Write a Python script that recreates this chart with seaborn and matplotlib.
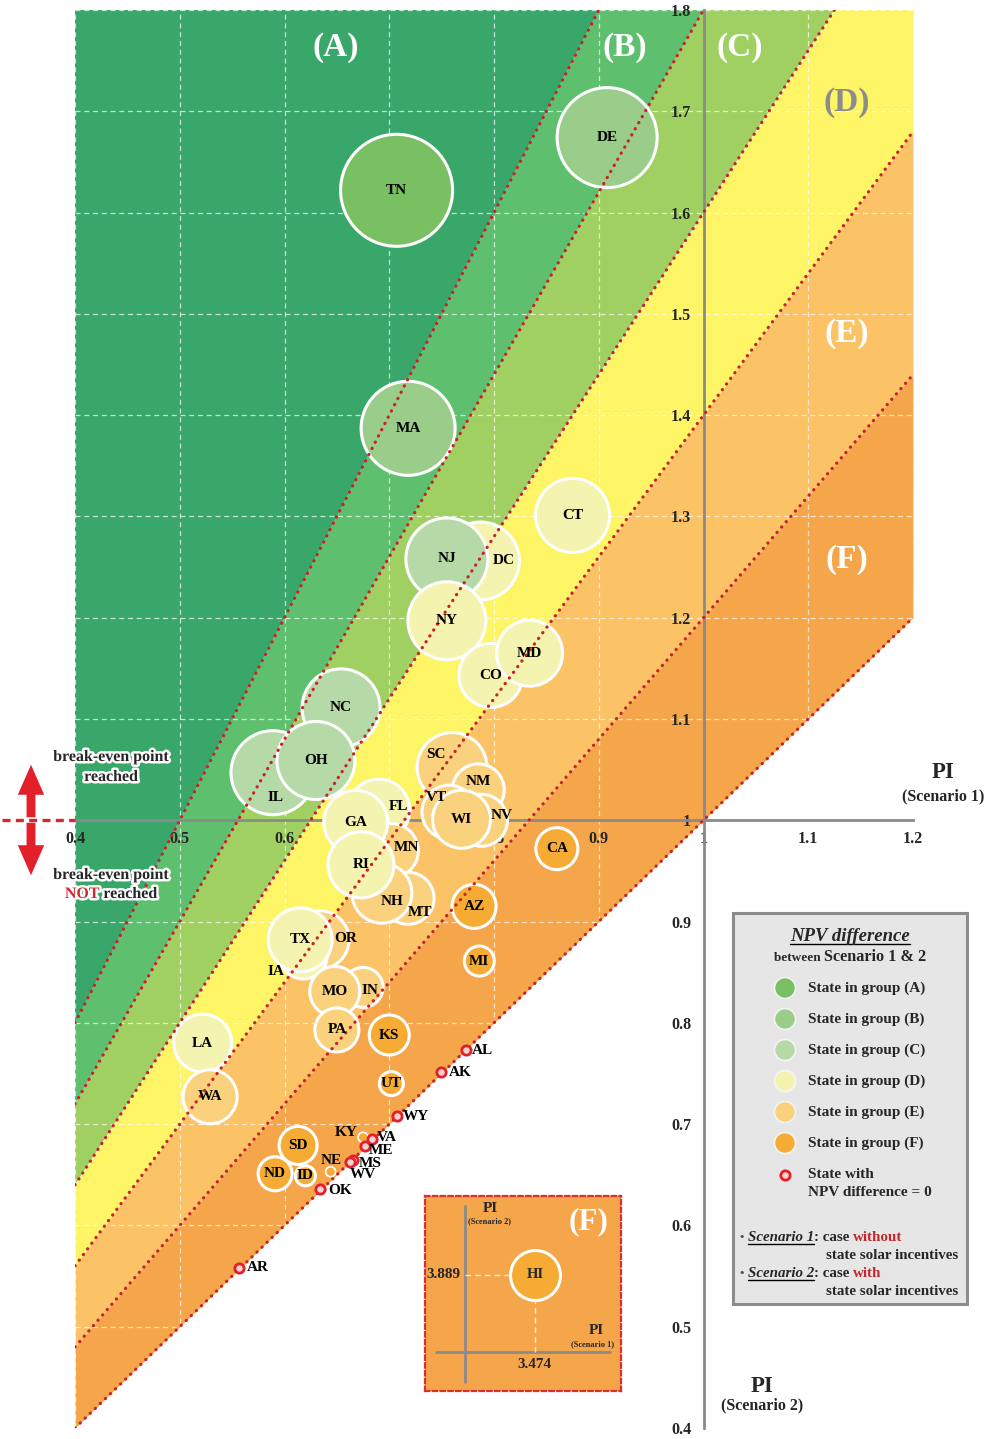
import numpy as np
import pandas as pd
import matplotlib
matplotlib.use("Agg")
import matplotlib.pyplot as plt
import matplotlib.patheffects as pe
from matplotlib.patches import FancyArrowPatch, Rectangle
import seaborn as sns

# ---- data: PI without (s1) and with (s2) state incentives
states = ["TN", "DE", "MA", "CT", "DC", "NJ", "NY", "CO", "MD", "NC", "IL", "OH",
          "SC", "NM", "VT", "NV", "WI", "FL", "MN", "GA", "MT", "NH", "RI", "CA",
          "AZ", "OR", "IA", "TX", "IN", "MO", "PA", "KS", "MI", "LA", "WA", "UT",
          "SD", "ND", "ID", "NE", "KY"]
pi_s1 = [0.707, 0.908, 0.718, 0.875, 0.787, 0.755, 0.755, 0.797, 0.834, 0.654, 0.589, 0.630,
         0.760, 0.785, 0.757, 0.788, 0.769, 0.690, 0.702, 0.668, 0.718, 0.693, 0.673, 0.860,
         0.781, 0.634, 0.618, 0.615, 0.675, 0.648, 0.650, 0.700, 0.786, 0.522, 0.529, 0.702,
         0.613, 0.591, 0.620, 0.644, 0.675]
pi_s2 = [1.622, 1.674, 1.387, 1.301, 1.256, 1.258, 1.197, 1.143, 1.165, 1.111, 1.047, 1.059,
         1.052, 1.030, 1.008, 1.000, 1.001, 1.010, 0.970, 0.998, 0.923, 0.928, 0.956, 0.972,
         0.915, 0.882, 0.867, 0.882, 0.835, 0.831, 0.793, 0.788, 0.861, 0.780, 0.727, 0.740,
         0.679, 0.651, 0.649, 0.653, 0.687]
# bubble radius as drawn (relative NPV difference)
bubble_r = [57, 51, 48, 38, 40, 42, 40, 33, 34, 40, 43, 40,
            36, 27, 28, 27, 30, 32, 28, 33, 27, 31, 34, 22,
            23, 30, 25, 33, 21, 26, 23, 21, 16, 30, 28, 13,
            20, 18, 11, 6, 6]
group = ["A", "B", "B", "D", "D", "C", "D", "D", "D", "C", "C", "C",
         "E", "E", "E", "E", "E", "D", "E", "D", "E", "E", "D", "F",
         "F", "E", "D", "D", "E", "E", "E", "F", "F", "D", "E", "F",
         "F", "F", "F", "F", "F"]

zero_states = ["AL", "AK", "WY", "VA", "ME", "MS", "WV", "OK", "AR"]
zero_s1 = [0.773, 0.749, 0.707, 0.684, 0.677, 0.665, 0.663, 0.634, 0.557]
zero_s2 = [0.773, 0.751, 0.708, 0.685, 0.678, 0.665, 0.663, 0.636, 0.558]

hi_s1, hi_s2 = 3.474, 3.889

# PI2/PI1 ratio boundaries of the groups
band_groups = ["F", "E", "D", "C", "B", "A"]
band_lo = [1.0, 1.2, 1.4, 1.6, 1.8, 2.0]
band_hi = [1.2, 1.4, 1.6, 1.8, 2.0, 5.0]

x_ticks = [0.4, 0.5, 0.6, 0.7, 0.8, 0.9, 1.0, 1.1, 1.2]
x_ticklabels = ["0.4", "0.5", "0.6", "0.7", "0.8", "0.9", "1", "1.1", "1.2"]
y_ticks = [0.4, 0.5, 0.6, 0.7, 0.8, 0.9, 1.0, 1.1, 1.2, 1.3, 1.4, 1.5, 1.6, 1.7, 1.8]
y_ticklabels = ["0.4", "0.5", "0.6", "0.7", "0.8", "0.9", "1", "1.1", "1.2", "1.3",
                "1.4", "1.5", "1.6", "1.7", "1.8"]

band_colors = {"A": "#3aa76a", "B": "#5ec06e", "C": "#a0d062",
               "D": "#fdf466", "E": "#fbc266", "F": "#f5a64b"}
bubble_colors = {"A": "#79c062", "B": "#9acd89", "C": "#b6daa7",
                 "D": "#f5f3b0", "E": "#fad27d", "F": "#f6ac34"}
RED = "#c8232b"

# label nudges (px right, px down) where the name is not at the centre
label_shift = {"IL": (3, 25), "DC": (23, 0), "FL": (20, -4), "OR": (26, -1),
               "IA": (-27, 17), "MN": (15, -3), "NH": (10, 8), "MT": (12, 14),
               "VT": (-13, -15), "NV": (20, -5), "IN": (7, 3), "SC": (-16, -13),
               "NM": (0, -8), "NE": (1, -11), "KY": (-17, -5)}
zero_shift = {"AL": (6, 0), "AK": (8, 0), "WY": (6, 0), "VA": (4, -2), "ME": (4, 4),
              "MS": (6, 4), "WV": (-1, 13), "OK": (8, 2), "AR": (7, 0)}

sns.set_theme(style="white")
plt.rcParams["font.family"] = ["Liberation Serif", "DejaVu Serif"]
plt.rcParams["font.weight"] = "bold"

W, H = 994, 1439
fig = plt.figure(figsize=(W / 100, H / 100), dpi=100)
ax = fig.add_axes([75 / W, 11 / H, 838 / W, 1418 / H])

xs = np.linspace(0.4, 1.2, 300)
for g, lo, hi in zip(band_groups, band_lo, band_hi):
    ax.fill_between(xs, lo * xs, hi * xs, color=band_colors[g], lw=0, zorder=0)

df = pd.DataFrame({"state": states, "pi1": pi_s1, "pi2": pi_s2,
                   "r": bubble_r, "group": group})
px2pt = 0.72
sizes = (2 * (df["r"] - 1) * px2pt) ** 2
edge_w = np.minimum(2.2, df["r"] * 0.2).to_numpy()
sns.scatterplot(data=df, x="pi1", y="pi2", hue="group", palette=bubble_colors,
                s=sizes, edgecolor="white", linewidth=edge_w, legend=False,
                ax=ax, zorder=3)

for k in band_lo:
    ax.plot(xs, k * xs, color=RED, lw=2.3, ls=(0, (0.1, 2.1)),
            dash_capstyle="round", zorder=4)

sns.scatterplot(x=zero_s1, y=zero_s2, s=45, color="#f9d0d0", edgecolor="#e1202a",
                linewidth=2.0, legend=False, ax=ax, zorder=5)

for _, row in df.iterrows():
    dx, dy = label_shift.get(row["state"], (0, 0))
    ax.annotate(row["state"], (row["pi1"], row["pi2"]), xytext=(dx * px2pt, -dy * px2pt),
                textcoords="offset points", ha="center", va="center",
                fontsize=11, color="black", zorder=6)
for st, x, y in zip(zero_states, zero_s1, zero_s2):
    dx, dy = zero_shift[st]
    ax.annotate(st, (x, y), xytext=(dx * px2pt, -dy * px2pt), textcoords="offset points",
                ha="left", va="center", fontsize=11, color="black", zorder=6)

ax.set_xlim(0.4, 1.2)
ax.set_ylim(0.4, 1.8)
ax.set_xlabel("")
ax.set_ylabel("")
ax.set_xticks(x_ticks)
ax.set_xticklabels(x_ticklabels)
ax.set_yticks(y_ticks)
ax.set_yticklabels(y_ticklabels)
ax.tick_params(length=0, labelsize=11.5)
ax.tick_params(axis="x", pad=8)
ax.tick_params(axis="y", pad=9)
ax.grid(True, color="white", ls=(0, (4, 3)), lw=0.9, alpha=0.7)
ax.set_axisbelow(True)
ax.set_facecolor("white")
for side in ["top", "right"]:
    ax.spines[side].set_visible(False)
for side in ["left", "bottom"]:
    ax.spines[side].set_position(("data", 1.0))
    ax.spines[side].set_color("#8a8a8a")
    ax.spines[side].set_linewidth(2.0)
    ax.spines[side].set_zorder(2.6)

# group letters inside the bands
for txt, x, y, c in [("(A)", 0.649, 1.763, "white"), ("(B)", 0.925, 1.763, "white"),
                     ("(C)", 1.035, 1.763, "white"), ("(D)", 1.137, 1.709, "#8c8c8c"),
                     ("(E)", 1.137, 1.481, "white"), ("(F)", 1.137, 1.257, "white")]:
    ax.text(x, y, txt, color=c, fontsize=24, ha="center", va="center", zorder=2)

# dotted break-even line left of the plot
ax.plot([0.4 - 73 / 1047.5, 0.4], [1.0, 1.0], color="#d42a2f", lw=2.4,
        ls=(0, (2.4, 1.6)), clip_on=False, zorder=4)

# ---- inset for Hawaii
iax = fig.add_axes([425 / W, 1 - 1391 / H, 196 / W, 195 / H])
iax.set_xlim(2.729, 4.057)
iax.set_ylim(3.002, 4.493)
iax.set_facecolor(band_colors["F"])
iax.set_xticks([])
iax.set_yticks([])
for sp in iax.spines.values():
    sp.set_color("#d9302f")
    sp.set_linestyle((0, (2, 1.5)))
    sp.set_linewidth(1.6)
iax.axvline(3.0, ymin=0.046, ymax=0.949, color="#8a8a8a", lw=2.0)
iax.axhline(3.3, xmin=0.056, xmax=0.944, color="#8a8a8a", lw=2.0)
iax.plot([3.0, hi_s1], [hi_s2, hi_s2], color="white", lw=1.0, ls=(0, (4, 3)), alpha=0.8)
iax.plot([hi_s1, hi_s1], [3.3, hi_s2], color="white", lw=1.0, ls=(0, (4, 3)), alpha=0.8)
sns.scatterplot(x=[hi_s1], y=[hi_s2], s=(2 * 25 * px2pt) ** 2, color=bubble_colors["F"],
                edgecolor="white", linewidth=2.2, legend=False, ax=iax, zorder=3)
iax.text(hi_s1, hi_s2, "HI", ha="center", va="center", fontsize=10.5, zorder=4)
iax.annotate(f"{hi_s2:.3f}", (3.0, hi_s2), xytext=(-3, 0), textcoords="offset points",
             ha="right", va="center", fontsize=11)
iax.annotate(f"{hi_s1:.3f}", (hi_s1, 3.3), xytext=(0, -4), textcoords="offset points",
             ha="center", va="top", fontsize=11)

# ---- overlay in pixel coordinates for annotations and the key
ov = fig.add_axes([0, 0, 1, 1])
ov.set_xlim(0, W)
ov.set_ylim(H, 0)
ov.axis("off")
ov.patch.set_alpha(0)

ov.text(490, 1209, "PI", ha="center", va="center", fontsize=11)
ov.text(490, 1221, "(Scenario 2)", ha="center", va="center", fontsize=6)
ov.text(596, 1330, "PI", ha="center", va="center", fontsize=11)
ov.text(593, 1344, "(Scenario 1)", ha="center", va="center", fontsize=6)
ov.text(589, 1222, "(F)", ha="center", va="center", fontsize=22.5, color="white")

ov.text(943, 773, "PI", ha="center", va="center", fontsize=16.5)
ov.text(943, 796, "(Scenario 1)", ha="center", va="center", fontsize=11.5)
ov.text(762, 1386, "PI", ha="center", va="center", fontsize=16.5)
ov.text(762, 1405, "(Scenario 2)", ha="center", va="center", fontsize=11.5)

renderer = fig.canvas.get_renderer()


def text_width(s, **props):
    t1 = ov.text(0, 0, s + "|", **props)
    t2 = ov.text(0, 0, "|", **props)
    w = t1.get_window_extent(renderer).width - t2.get_window_extent(renderer).width
    t1.remove()
    t2.remove()
    return w


def rich_text(x, y, pieces, ha="left", size=11, **common):
    # pieces: (text, props, underline)
    widths = [text_width(s, size=p.get("size", size), **{k: v for k, v in p.items() if k != "size"})
              for s, p, _ in pieces]
    if ha == "center":
        x -= sum(widths) / 2
    for (s, p, u), w in zip(pieces, widths):
        props = dict(size=size)
        props.update(p)
        props.update(common)
        ov.text(x, y, s, ha="left", va="baseline", **props)
        if u:
            ov.plot([x, x + w], [y + 2.5, y + 2.5], color=props.get("color", "black"), lw=1.0)
        x += w


stroke = [pe.withStroke(linewidth=3.5, foreground="white")]
ov.text(111, 757, "break-even point", ha="center", va="center", fontsize=11.5,
        path_effects=stroke)
ov.text(111, 777, "reached", ha="center", va="center", fontsize=11.5,
        path_effects=stroke)
ov.text(111, 875, "break-even point", ha="center", va="center", fontsize=11.5,
        path_effects=stroke)
rich_text(111, 898, [("NOT", {"color": "#d42a2f"}, False), (" reached", {}, False)],
          ha="center", size=11.5, path_effects=stroke)

for end in (762, 878):
    ov.add_patch(FancyArrowPatch((31, 820), (31, end),
                                 arrowstyle="simple,head_length=1.08,head_width=0.95,tail_width=0.32",
                                 mutation_scale=20, color="#e3202a", lw=0))

# key box
ov.add_patch(Rectangle((733, 913), 234, 391, facecolor="#e6e6e6", edgecolor="#8c8c8c", lw=2.2))
rich_text(850, 941, [("NPV difference", {"style": "italic"}, True)], ha="center", size=13.5)
rich_text(850, 961, [("between ", {"size": 9.5}, False), ("Scenario 1 & 2", {"size": 11.7}, False)],
          ha="center")
key_y = [988 + 31 * i for i in range(6)]
key_groups = ["A", "B", "C", "D", "E", "F"]
sns.scatterplot(x=[785] * 6, y=key_y, hue=key_groups, palette=bubble_colors, s=230,
                edgecolor="#f4f4f4", linewidth=1.2, legend=False, ax=ov)
for g, y in zip(key_groups, key_y):
    ov.text(808, y, f"State in group ({g})", va="center", fontsize=11)
sns.scatterplot(x=[785], y=[1175], s=45, color="#f9d0d0", edgecolor="#e1202a",
                linewidth=2.0, legend=False, ax=ov)
ov.text(808, 1175, "State with", va="center", fontsize=11)
ov.text(808, 1193, "NPV difference = 0", va="center", fontsize=11)

for y0, num, word in [(1241, "1", "without"), (1277, "2", "with")]:
    rich_text(740, y0, [("\u2022 ", {"color": "#555555", "size": 9}, False),
                        ("Scenario " + num, {"style": "italic"}, True),
                        (": case ", {}, False),
                        (word, {"color": "#c0282d"}, False)], size=10.8)
    ov.text(826, y0 + 18, "state solar incentives", va="baseline", fontsize=10.8)

ov.set_xlim(0, W)
ov.set_ylim(H, 0)
ov.set_xlabel("")
ov.set_ylabel("")

fig.savefig("out.png", dpi=100)
